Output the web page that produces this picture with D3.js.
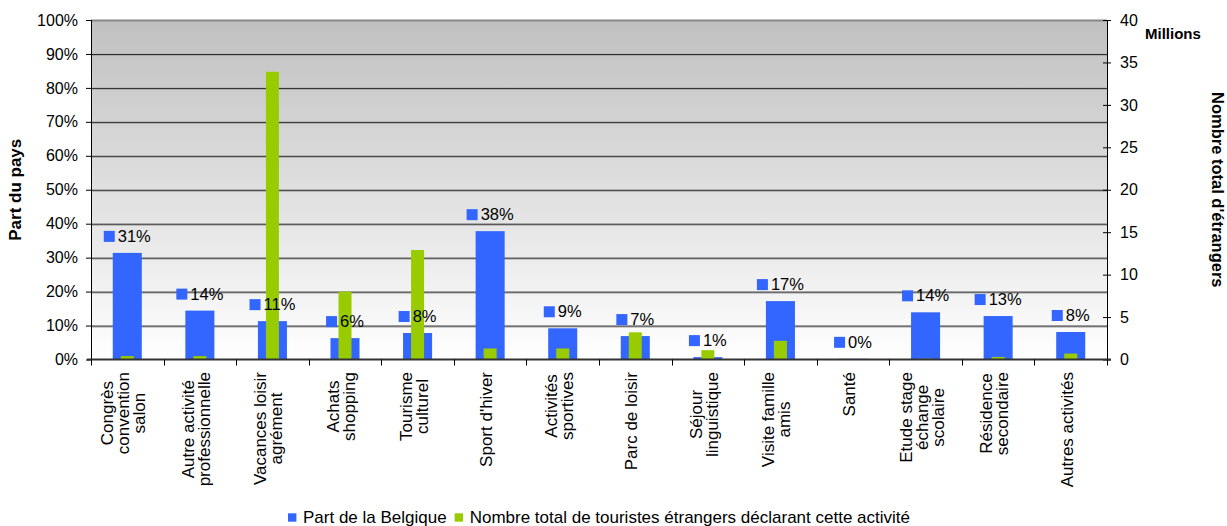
<!DOCTYPE html>
<html><head><meta charset="utf-8">
<script src="https://cdn.jsdelivr.net/npm/d3@7"></script>
<style>
body{margin:0;background:#fff}
svg{display:block}
text{font-family:"Liberation Sans",Arial,Helvetica,sans-serif;fill:#000}
</style>
</head><body>
<svg id="c" width="1227" height="526"></svg>
<script>
const categories = ["Congrès\nconvention\nsalon","Autre activité\nprofessionnelle","Vacances loisir\nagrément","Achats\nshopping","Tourisme\nculturel","Sport d'hiver","Activités\nsportives","Parc de loisir","Séjour\nlinguistique","Visite famille\namis","Santé","Etude stage\néchange\nscolaire","Résidence\nsecondaire","Autres activités"];
const shareBelgium = [0.314,0.144,0.113,0.063,0.078,0.378,0.092,0.069,0.007,0.172,0.002,0.139,0.128,0.081];
const totalForeign = [0.4,0.4,33.9,8.0,12.9,1.3,1.3,3.2,1.1,2.2,0.05,0.1,0.3,0.7];
const leftTicks = [0,0.1,0.2,0.3,0.4,0.5,0.6,0.7,0.8,0.9,1];
const rightTicks = [0,5,10,15,20,25,30,35,40];
const seriesNames = ["Part de la Belgique","Nombre total de touristes étrangers déclarant cette activité"];
const colors = ["#3366ff","#99cc00"];

const svg = d3.select("#c");
const L=91, R=1107, T=20, B=359.5;
const x = d3.scaleBand().domain(categories).range([L,R]);
const yL = d3.scaleLinear().domain([0,1]).range([B,T]);
const yR = d3.scaleLinear().domain([0,40]).range([B,T]);
const bw = x.bandwidth();

// background gradient
const defs = svg.append("defs");
const g = defs.append("linearGradient").attr("id","bg").attr("x1",0).attr("y1",0).attr("x2",0).attr("y2",1);
g.append("stop").attr("offset","0%").attr("stop-color","#c0c0c0");
g.append("stop").attr("offset","100%").attr("stop-color","#ffffff");
svg.append("rect").attr("x",L).attr("y",T).attr("width",R-L).attr("height",B-T).attr("fill","url(#bg)");

// gridlines
const grid = svg.append("g");
leftTicks.filter(d=>d>0 && d<1).forEach(d=>{
  grid.append("line").attr("x1",L).attr("x2",R).attr("y1",yL(d)+1.5).attr("y2",yL(d)+1.5).attr("stroke","#a8a8a8").attr("stroke-width",1);
  grid.append("line").attr("x1",L).attr("x2",R).attr("y1",yL(d)+0.5).attr("y2",yL(d)+0.5).attr("stroke","#262626").attr("stroke-width",1);
});
grid.append("line").attr("x1",L).attr("x2",R).attr("y1",T+0.5).attr("y2",T+0.5).attr("stroke","#888").attr("stroke-width",2);

// blue bars
svg.append("g").selectAll("rect").data(shareBelgium).join("rect")
  .attr("x",(d,i)=>x(categories[i])+bw*0.3)
  .attr("width",bw*0.4)
  .attr("y",d=>yL(d))
  .attr("height",d=>B-yL(d))
  .attr("fill",colors[0]);
// green bars
svg.append("g").selectAll("rect").data(totalForeign).join("rect")
  .attr("x",(d,i)=>x(categories[i])+bw*0.5-6.5)
  .attr("width",13)
  .attr("y",d=>yR(d))
  .attr("height",d=>B-yR(d))
  .attr("fill",colors[1]);

// data labels
const fmt = d3.format(".0%");
const lab = svg.append("g");
shareBelgium.forEach((d,i)=>{
  const cx = x(categories[i])+bw/2;
  const top = yL(d);
  const gg = lab.append("g");
  const t = gg.append("text").attr("font-size",16.5).attr("y",top-11).text(fmt(d));
  const tw = t.node().getComputedTextLength();
  const total = 11+3+tw;
  const x0 = cx-total/2;
  gg.append("rect").attr("x",x0).attr("y",top-22).attr("width",11).attr("height",11).attr("fill",colors[0]);
  t.attr("x",x0+14);
});

// left axis
const axL = svg.append("g").attr("transform",`translate(${L},0)`)
  .call(d3.axisLeft(yL).tickValues(leftTicks).tickFormat(fmt).tickSize(5).tickPadding(8));
axL.select(".domain").remove();
axL.selectAll("text").attr("font-size",16).attr("font-family",null);
axL.selectAll("line").attr("stroke","#000");
svg.append("line").attr("x1",L+0.5).attr("x2",L+0.5).attr("y1",T).attr("y2",B+5).attr("stroke","#000");

// right axis
const axR = svg.append("g").attr("transform",`translate(${R},0)`)
  .call(d3.axisRight(yR).tickValues(rightTicks).tickSize(4).tickPadding(9));
axR.select(".domain").remove();
axR.selectAll("line").attr("x1",-4).attr("stroke","#000");
axR.selectAll("text").attr("font-size",16).attr("font-family",null);
svg.append("line").attr("x1",R+0.5).attr("x2",R+0.5).attr("y1",T).attr("y2",B+5).attr("stroke","#000");

// bottom axis
const axB = svg.append("g").attr("transform",`translate(0,${B})`);
axB.append("line").attr("x1",L-4).attr("x2",R+4).attr("y1",0).attr("y2",0).attr("stroke","#333").attr("stroke-width",2);
const bounds = categories.map(c=>x(c)).concat([R]);
axB.selectAll("line.tk").data(bounds).join("line").attr("class","tk")
  .attr("x1",d=>Math.round(d)+0.5).attr("x2",d=>Math.round(d)+0.5).attr("y1",0).attr("y2",6).attr("stroke","#000");

// category labels
const catG = svg.append("g");
const lh = 16;
categories.forEach((c,i)=>{
  const lines = c.split("\n");
  const cx = x(c)+bw/2;
  const tmp = lines.map(l=>catG.append("text").attr("font-size",17).text(l));
  const maxLen = d3.max(tmp, t=>t.node().getComputedTextLength());
  const cy = 372 + maxLen/2;
  tmp.forEach((t,j)=>{
    const lx = cx - 3.5 + (j-(lines.length-1)/2)*lh;
    t.attr("text-anchor","middle").attr("dominant-baseline","central")
     .attr("transform",`translate(${lx},${cy}) rotate(-90)`);
  });
});

// axis titles
svg.append("text").attr("font-size",17).attr("font-weight","bold").attr("text-anchor","middle")
  .attr("transform",`translate(21,${(T+B)/2}) rotate(-90)`).text("Part du pays");
svg.append("text").attr("font-size",16.5).attr("font-weight","bold").attr("text-anchor","middle")
  .attr("transform",`translate(1212,${(T+B)/2}) rotate(90)`).text("Nombre total d'étrangers");
svg.append("text").attr("font-size",15).attr("font-weight","bold").attr("x",1145).attr("y",38.5).text("Millions");

// legend
const leg = svg.append("g");
let lx = 0;
seriesNames.forEach((n,i)=>{
  leg.append("rect").attr("x",lx).attr("y",-4.2).attr("width",8.4).attr("height",8.4).attr("fill",colors[i]);
  const t = leg.append("text").attr("x",lx+15).attr("y",5.5).attr("font-size",17).text(n);
  lx += 15 + t.node().getComputedTextLength() + 8;
});
const legW = lx-8;
leg.attr("transform",`translate(${(L+R)/2 - legW/2},517.5)`);
</script>
</body></html>
